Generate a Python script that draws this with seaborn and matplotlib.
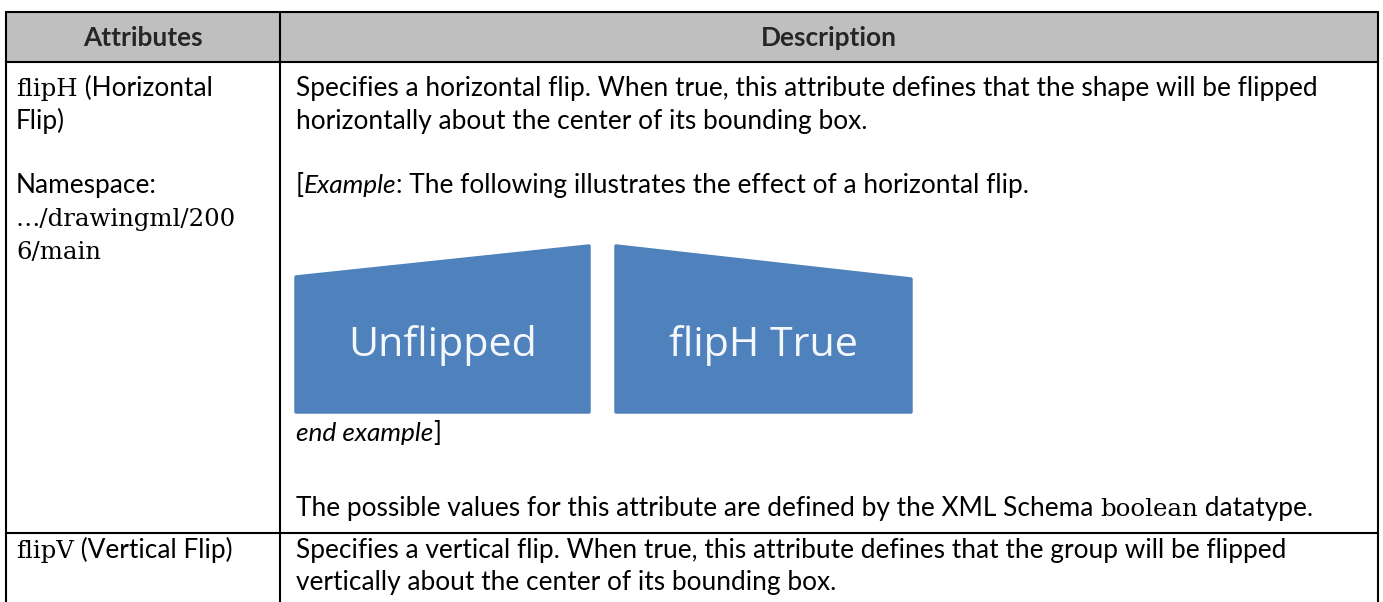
import matplotlib
matplotlib.use("Agg")
import matplotlib.pyplot as plt
import seaborn as sns
from matplotlib.patches import Polygon, Rectangle

# table content
headers = ["Attributes", "Description"]

row1_attr = [
    [("flipH", "serif"), (" (Horizontal", "sans")],
    [("Flip)", "sans")],
    [("Namespace:", "sans")],
    [("\u2026/drawingml/200", "serif")],
    [("6/main", "serif")],
]
row1_desc = [
    [("Specifies a horizontal flip. When true, this attribute defines that the shape will be flipped", "sans")],
    [("horizontally about the center of its bounding box.", "sans")],
    [("[", "sans"), ("Example", "italic"), (": The following illustrates the effect of a horizontal flip.", "sans")],
    [("end example", "italic"), ("]", "sans")],
    [("The possible values for this attribute are defined by the XML Schema ", "sans"),
     ("boolean", "serif"), (" datatype.", "sans")],
]
row2_attr = [
    [("flipV", "serif"), (" (Vertical Flip)", "sans")],
]
row2_desc = [
    [("Specifies a vertical flip. When true, this attribute defines that the group will be flipped", "sans")],
    [("vertically about the center of its bounding box.", "sans")],
]
shape_labels = ["Unflipped", "flipH True"]

# layout (pixels)
W, H = 1383, 602
x_left, x_mid, x_right = 6, 280, 1378
y_top, y_head, y_row = 12, 62, 533
row1_attr_y = [96, 129, 193, 226, 259]
row1_desc_y = [96, 129, 193, 441, 516]
row2_y = [558, 590]
col1_x, col2_x = 16, 296

sns.set_theme(style="white")
plt.rcParams["font.family"] = ["Lato", "DejaVu Sans"]

fig = plt.figure(figsize=(W / 100, H / 100), dpi=100)
ax = fig.add_axes([0, 0, 1, 1])
ax.set_xlim(0, W)
ax.set_ylim(H, 0)
ax.axis("off")
renderer = fig.canvas.get_renderer()


def text_width(txt, **kw):
    t = ax.text(0, 0, txt, fontsize=20, **kw)
    w = t.get_window_extent(renderer).width
    t.remove()
    return w


def fit(txt, target, **kw):
    return 20 * target / text_width(txt, **kw)


sans_size = fit(row1_desc[0][0][0], 1020, family=["Lato"])
serif_size = fit("drawingml", 133, family=["DejaVu Serif"])
shape_size = fit(shape_labels[0], 189, family=["Open Sans"])

styles = {
    "sans": dict(family=["Lato", "DejaVu Sans"], fontsize=sans_size),
    "italic": dict(family=["Lato", "DejaVu Sans"], fontsize=sans_size, style="italic"),
    "serif": dict(family=["DejaVu Serif"], fontsize=serif_size),
}


def draw_runs(x, y, runs):
    for txt, kind in runs:
        t = ax.text(x, y, txt, ha="left", va="baseline", color="black", **styles[kind])
        x1 = t.get_window_extent(renderer).x1
        x = ax.transData.inverted().transform((x1, 0))[0]


# header background
ax.add_patch(Rectangle((x_left, y_top), x_right - x_left, y_head - y_top,
                       facecolor="#bfbfbf", edgecolor="none", zorder=0))

# grid lines
lw = 1.5
ax.plot([x_left, x_right], [y_top, y_top], color="black", lw=lw)
ax.plot([x_left, x_right], [y_head, y_head], color="black", lw=lw)
ax.plot([x_left, x_right], [y_row, y_row], color="black", lw=lw)
for xv in (x_left, x_mid, x_right):
    ax.plot([xv, xv], [y_top, H + 2], color="black", lw=lw)

# headers
hy = (y_top + y_head) / 2 + 1
ax.text((x_left + x_mid) / 2, hy, headers[0], ha="center", va="center",
        fontweight="bold", family=["Lato", "DejaVu Sans"], fontsize=sans_size)
ax.text((x_mid + x_right) / 2, hy, headers[1], ha="center", va="center",
        fontweight="bold", family=["Lato", "DejaVu Sans"], fontsize=sans_size)

# body text
for runs, y in zip(row1_attr, row1_attr_y):
    draw_runs(col1_x, y, runs)
for runs, y in zip(row1_desc, row1_desc_y):
    draw_runs(col2_x, y, runs)
for runs, y in zip(row2_attr, row2_y):
    draw_runs(col1_x, y, runs)
for runs, y in zip(row2_desc, row2_y):
    draw_runs(col2_x, y, runs)

# example shapes
blue = "#4f81bd"
unflipped = [(296, 277), (589, 246), (589, 412), (296, 412)]
flipped = [(616, 246), (911, 279), (911, 412), (616, 412)]
for pts, label in zip([unflipped, flipped], shape_labels):
    ax.add_patch(Polygon(pts, closed=True, facecolor=blue, edgecolor=blue,
                         lw=2.5, joinstyle="round"))
    cx = (pts[0][0] + pts[1][0]) / 2
    ax.text(cx, 346, label, ha="center", va="center", color="#f4f7fb",
            family=["Open Sans", "DejaVu Sans"], fontsize=shape_size)

fig.savefig("out.png", dpi=100)
